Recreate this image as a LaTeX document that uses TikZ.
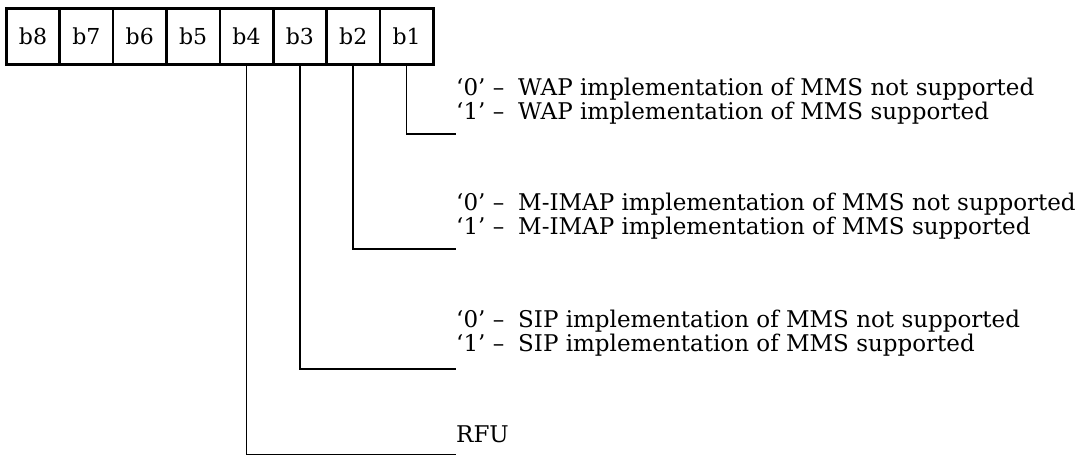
\documentclass[tikz,border=0pt]{standalone}
\usepackage{fontspec}
\setmainfont{DejaVu Serif}
\begin{document}
\begin{tikzpicture}[x=1pt,y=-1pt,
  bitbox/.style={draw,line width=2.6pt,minimum width=53.4pt,minimum height=56pt,inner sep=0pt,anchor=north west,font=\fontsize{22}{26}\selectfont},
  conn/.style={line width=1.6pt},
  txt/.style={anchor=base west,inner sep=0pt,font=\fontsize{23}{26}\selectfont}]
\useasboundingbox (0,0) rectangle (1083,456);
\foreach \l [count=\i from 0] in {b8,b7,b6,b5,b4,b3,b2,b1}{
  \node[bitbox] (\l) at ({5+53.375*\i},7) {\l};
}
% connector ends
\coordinate (e1) at (456,134);
\coordinate (e2) at (456,249);
\coordinate (e3) at (456,369);
\coordinate (e4) at (456,454.5);
\draw[conn] (b1.south) |- (e1);
\draw[conn] (b2.south) |- (e2);
\draw[conn] (b3.south) |- (e3);
\draw[conn] (b4.south) |- (e4);
% texts
\node[txt] (q10) at (456,95) {‘0’ –};
\node[txt] (d10) at (518,95) {WAP implementation of MMS not supported};
\node[txt] (q11) at (456,119) {‘1’ –};
\node[txt] (d11) at (518,119) {WAP implementation of MMS supported};
\node[txt] (q20) at (456,210) {‘0’ –};
\node[txt] (d20) at (518,210) {M-IMAP implementation of MMS not supported};
\node[txt] (q21) at (456,234) {‘1’ –};
\node[txt] (d21) at (518,234) {M-IMAP implementation of MMS supported};
\node[txt] (q30) at (456,327) {‘0’ –};
\node[txt] (d30) at (518,327) {SIP implementation of MMS not supported};
\node[txt] (q31) at (456,351) {‘1’ –};
\node[txt] (d31) at (518,351) {SIP implementation of MMS supported};
\node[txt] (rfu) at (456,442) {RFU};
\end{tikzpicture}
\end{document}
